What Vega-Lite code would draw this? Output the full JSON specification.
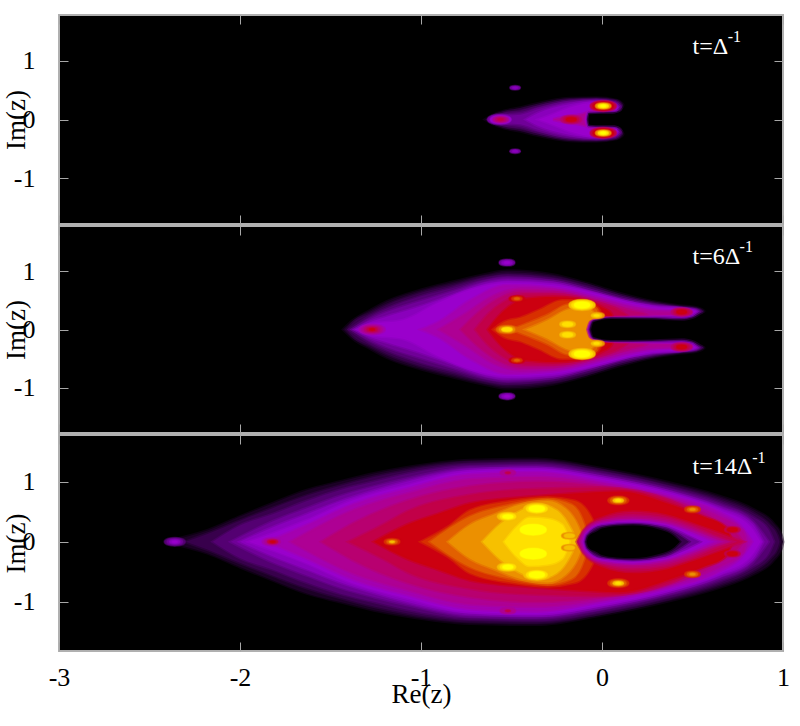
{"$schema":"https://vega.github.io/schema/vega-lite/v6.json","padding":{"left":1,"top":13,"right":16,"bottom":8},"spacing":-4,
"config":{"view":{"fill":"#000","stroke":"#b0b0b0","strokeWidth":2},"font":"Liberation Serif","axis":{"grid":false,"domain":false,"tickColor":"#a8a8a8","tickSize":-9,"tickWidth":1,"labelFont":"Liberation Serif","labelFontSize":26,"labelFlush":false,"labelColor":"#000","titleFont":"Liberation Serif","titleFontSize":27,"titleFontWeight":"normal","titleColor":"#000"}},
"datasets":{
"t":[{"p":1,"k":0,"x":0.5,"y":1.11,"t":"t=Δ"},{"p":1,"k":1,"x":0.695,"y":1.32,"t":"-1"},{"p":2,"k":0,"x":0.5,"y":1.12,"t":"t=6Δ"},{"p":2,"k":1,"x":0.76,"y":1.33,"t":"-1"},{"p":3,"k":0,"x":0.5,"y":1.13,"t":"t=14Δ"},{"p":3,"k":1,"x":0.83,"y":1.32,"t":"-1"}],
"b1":[
{"l":1,"x":-0.646,"y":0,"y2":0},{"l":1,"x":-0.6,"y":0.08,"y2":-0.08},{"l":1,"x":-0.545,"y":0.14,"y2":-0.14},{"l":1,"x":-0.45,"y":0.2,"y2":-0.2},{"l":1,"x":-0.36,"y":0.27,"y2":-0.27},{"l":1,"x":-0.18,"y":0.36,"y2":-0.36},{"l":1,"x":-0.03,"y":0.37,"y2":-0.37},{"l":1,"x":0.08,"y":0.33,"y2":-0.33},{"l":1,"x":0.12,"y":0.24,"y2":-0.24},{"l":1,"x":0.125,"y":0,"y2":0},
{"l":2,"x":-0.63,"y":0,"y2":0},{"l":2,"x":-0.6,"y":0.06,"y2":-0.06},{"l":2,"x":-0.545,"y":0.12,"y2":-0.12},{"l":2,"x":-0.45,"y":0.17,"y2":-0.17},{"l":2,"x":-0.36,"y":0.24,"y2":-0.24},{"l":2,"x":-0.18,"y":0.34,"y2":-0.34},{"l":2,"x":-0.03,"y":0.355,"y2":-0.355},{"l":2,"x":0.08,"y":0.32,"y2":-0.32},{"l":2,"x":0.11,"y":0.24,"y2":-0.24},{"l":2,"x":0.115,"y":0,"y2":0},
{"l":3,"x":-0.61,"y":0,"y2":0},{"l":3,"x":-0.545,"y":0.09,"y2":-0.09},{"l":3,"x":-0.45,"y":0.13,"y2":-0.13},{"l":3,"x":-0.36,"y":0.21,"y2":-0.21},{"l":3,"x":-0.18,"y":0.32,"y2":-0.32},{"l":3,"x":-0.03,"y":0.34,"y2":-0.34},{"l":3,"x":0.07,"y":0.31,"y2":-0.31},{"l":3,"x":0.105,"y":0.23,"y2":-0.23},{"l":3,"x":0.11,"y":0,"y2":0},
{"l":4,"x":-0.6,"y":0,"y2":0},{"l":4,"x":-0.545,"y":0.06,"y2":-0.06},{"l":4,"x":-0.45,"y":0.08,"y2":-0.08},{"l":4,"x":-0.36,"y":0.17,"y2":-0.17},{"l":4,"x":-0.18,"y":0.3,"y2":-0.3},{"l":4,"x":-0.03,"y":0.33,"y2":-0.33},{"l":4,"x":0.07,"y":0.29,"y2":-0.29},{"l":4,"x":0.1,"y":0.22,"y2":-0.22},{"l":4,"x":0.105,"y":0,"y2":0},
{"l":5,"x":-0.42,"y":0,"y2":0},{"l":5,"x":-0.36,"y":0.1,"y2":-0.1},{"l":5,"x":-0.18,"y":0.26,"y2":-0.26},{"l":5,"x":-0.03,"y":0.31,"y2":-0.31},{"l":5,"x":0.07,"y":0.27,"y2":-0.27},{"l":5,"x":0.09,"y":0.21,"y2":-0.21},{"l":5,"x":0.095,"y":0,"y2":0},
{"l":6,"x":-0.35,"y":0,"y2":0},{"l":6,"x":-0.27,"y":0.09,"y2":-0.09},{"l":6,"x":-0.18,"y":0.2,"y2":-0.2},{"l":6,"x":-0.03,"y":0.29,"y2":-0.29},{"l":6,"x":0.07,"y":0.25,"y2":-0.25},{"l":6,"x":0.085,"y":0.2,"y2":-0.2},{"l":6,"x":0.09,"y":0,"y2":0},
{"l":8,"x":-0.27,"y":0,"y2":0},{"l":8,"x":-0.2,"y":0.05,"y2":-0.05},{"l":8,"x":-0.1,"y":0.1,"y2":-0.1},{"l":8,"x":-0.06,"y":0.15,"y2":-0.15},{"l":8,"x":0,"y":0.27,"y2":-0.27},{"l":8,"x":0.05,"y":0.24,"y2":-0.24},{"l":8,"x":0.07,"y":0.1,"y2":-0.1},{"l":8,"x":0.075,"y":0,"y2":0}],
"h1":[
{"l":6,"x":-0.09,"y":0,"y2":0},{"l":6,"x":-0.08,"y":0.13,"y2":-0.13},{"l":6,"x":0,"y":0.135,"y2":-0.135},{"l":6,"x":0.08,"y":0.15,"y2":-0.15},{"l":6,"x":0.085,"y":0,"y2":0},
{"l":3,"x":-0.08,"y":0,"y2":0},{"l":3,"x":-0.075,"y":0.11,"y2":-0.11},{"l":3,"x":0,"y":0.115,"y2":-0.115},{"l":3,"x":0.08,"y":0.13,"y2":-0.13},{"l":3,"x":0.105,"y":0.2,"y2":-0.2},{"l":3,"x":0.11,"y":0,"y2":0},
{"l":0,"x":-0.075,"y":0,"y2":0},{"l":0,"x":-0.07,"y":0.09,"y2":-0.09},{"l":0,"x":0,"y":0.1,"y2":-0.1},{"l":0,"x":0.06,"y":0.1,"y2":-0.1},{"l":0,"x":0.1,"y":0.13,"y2":-0.13},{"l":0,"x":0.13,"y":0.25,"y2":-0.25},{"l":0,"x":0.16,"y":0.35,"y2":-0.35}],
"s1":[
{"l":4,"g":5,"x":-0.56,"y":0},{"l":6,"g":4,"x":-0.56,"y":0},{"l":8,"g":3,"x":-0.56,"y":0},{"l":9,"g":2,"x":-0.56,"y":0},{"l":10,"g":1,"x":-0.56,"y":0},
{"l":9,"g":4,"x":-0.17,"y":0},{"l":10,"g":3,"x":-0.17,"y":0},{"l":11,"g":2,"x":-0.17,"y":0},
{"l":10,"g":5,"x":0.007,"y":0.23},{"l":11,"g":4,"x":0.007,"y":0.23},{"l":14,"g":3,"x":0.007,"y":0.23},{"l":16,"g":2,"x":0.007,"y":0.23},{"l":17,"g":1,"x":0.007,"y":0.23},
{"l":10,"g":5,"x":0.007,"y":-0.23},{"l":11,"g":4,"x":0.007,"y":-0.23},{"l":14,"g":3,"x":0.007,"y":-0.23},{"l":16,"g":2,"x":0.007,"y":-0.23},{"l":17,"g":1,"x":0.007,"y":-0.23},
{"l":4,"g":2,"x":-0.48,"y":0.54},{"l":5,"g":1,"x":-0.48,"y":0.54},{"l":4,"g":2,"x":-0.48,"y":-0.54},{"l":5,"g":1,"x":-0.48,"y":-0.54}],
"b2":[
{"l":1,"x":-1.43,"y":0,"y2":0},{"l":1,"x":-1.375,"y":0.16,"y2":-0.16},{"l":1,"x":-1.28,"y":0.33,"y2":-0.33},{"l":1,"x":-1.19,"y":0.48,"y2":-0.48},{"l":1,"x":-1,"y":0.68,"y2":-0.68},{"l":1,"x":-0.82,"y":0.82,"y2":-0.82},{"l":1,"x":-0.64,"y":0.95,"y2":-0.95},{"l":1,"x":-0.525,"y":1.01,"y2":-1.01},{"l":1,"x":-0.27,"y":0.94,"y2":-0.94},{"l":1,"x":-0.08,"y":0.79,"y2":-0.79},{"l":1,"x":0.1,"y":0.62,"y2":-0.62},{"l":1,"x":0.28,"y":0.48,"y2":-0.48},{"l":1,"x":0.43,"y":0.41,"y2":-0.41},{"l":1,"x":0.53,"y":0.37,"y2":-0.37},{"l":1,"x":0.57,"y":0.3,"y2":-0.3},{"l":1,"x":0.58,"y":0,"y2":0},
{"l":2,"x":-1.41,"y":0,"y2":0},{"l":2,"x":-1.375,"y":0.12,"y2":-0.12},{"l":2,"x":-1.28,"y":0.28,"y2":-0.28},{"l":2,"x":-1.19,"y":0.42,"y2":-0.42},{"l":2,"x":-1,"y":0.63,"y2":-0.63},{"l":2,"x":-0.82,"y":0.77,"y2":-0.77},{"l":2,"x":-0.64,"y":0.91,"y2":-0.91},{"l":2,"x":-0.525,"y":0.96,"y2":-0.96},{"l":2,"x":-0.27,"y":0.9,"y2":-0.9},{"l":2,"x":-0.08,"y":0.76,"y2":-0.76},{"l":2,"x":0.1,"y":0.59,"y2":-0.59},{"l":2,"x":0.28,"y":0.46,"y2":-0.46},{"l":2,"x":0.43,"y":0.39,"y2":-0.39},{"l":2,"x":0.52,"y":0.36,"y2":-0.36},{"l":2,"x":0.56,"y":0.3,"y2":-0.3},{"l":2,"x":0.565,"y":0,"y2":0},
{"l":3,"x":-1.395,"y":0,"y2":0},{"l":3,"x":-1.28,"y":0.23,"y2":-0.23},{"l":3,"x":-1.19,"y":0.36,"y2":-0.36},{"l":3,"x":-1,"y":0.57,"y2":-0.57},{"l":3,"x":-0.82,"y":0.72,"y2":-0.72},{"l":3,"x":-0.64,"y":0.87,"y2":-0.87},{"l":3,"x":-0.525,"y":0.92,"y2":-0.92},{"l":3,"x":-0.27,"y":0.86,"y2":-0.86},{"l":3,"x":-0.08,"y":0.72,"y2":-0.72},{"l":3,"x":0.1,"y":0.56,"y2":-0.56},{"l":3,"x":0.28,"y":0.44,"y2":-0.44},{"l":3,"x":0.43,"y":0.38,"y2":-0.38},{"l":3,"x":0.52,"y":0.35,"y2":-0.35},{"l":3,"x":0.55,"y":0.3,"y2":-0.3},{"l":3,"x":0.555,"y":0,"y2":0},
{"l":4,"x":-1.38,"y":0,"y2":0},{"l":4,"x":-1.28,"y":0.18,"y2":-0.18},{"l":4,"x":-1.19,"y":0.3,"y2":-0.3},{"l":4,"x":-1,"y":0.49,"y2":-0.49},{"l":4,"x":-0.82,"y":0.66,"y2":-0.66},{"l":4,"x":-0.64,"y":0.83,"y2":-0.83},{"l":4,"x":-0.525,"y":0.88,"y2":-0.88},{"l":4,"x":-0.27,"y":0.83,"y2":-0.83},{"l":4,"x":-0.08,"y":0.69,"y2":-0.69},{"l":4,"x":0.1,"y":0.53,"y2":-0.53},{"l":4,"x":0.28,"y":0.42,"y2":-0.42},{"l":4,"x":0.44,"y":0.37,"y2":-0.37},{"l":4,"x":0.52,"y":0.34,"y2":-0.34},{"l":4,"x":0.54,"y":0.3,"y2":-0.3},{"l":4,"x":0.55,"y":0,"y2":0},
{"l":5,"x":-1.365,"y":0,"y2":0},{"l":5,"x":-1.28,"y":0.13,"y2":-0.13},{"l":5,"x":-1.19,"y":0.22,"y2":-0.22},{"l":5,"x":-1,"y":0.4,"y2":-0.4},{"l":5,"x":-0.82,"y":0.6,"y2":-0.6},{"l":5,"x":-0.64,"y":0.79,"y2":-0.79},{"l":5,"x":-0.525,"y":0.84,"y2":-0.84},{"l":5,"x":-0.27,"y":0.8,"y2":-0.8},{"l":5,"x":-0.08,"y":0.66,"y2":-0.66},{"l":5,"x":0.1,"y":0.5,"y2":-0.5},{"l":5,"x":0.28,"y":0.4,"y2":-0.4},{"l":5,"x":0.44,"y":0.365,"y2":-0.365},{"l":5,"x":0.51,"y":0.335,"y2":-0.335},{"l":5,"x":0.53,"y":0.3,"y2":-0.3},{"l":5,"x":0.54,"y":0,"y2":0},
{"l":6,"x":-1.35,"y":0,"y2":0},{"l":6,"x":-1.28,"y":0.09,"y2":-0.09},{"l":6,"x":-1.1,"y":0.16,"y2":-0.16},{"l":6,"x":-0.91,"y":0.45,"y2":-0.45},{"l":6,"x":-0.73,"y":0.68,"y2":-0.68},{"l":6,"x":-0.525,"y":0.8,"y2":-0.8},{"l":6,"x":-0.27,"y":0.76,"y2":-0.76},{"l":6,"x":0,"y":0.59,"y2":-0.59},{"l":6,"x":0.19,"y":0.44,"y2":-0.44},{"l":6,"x":0.3,"y":0.38,"y2":-0.38},{"l":6,"x":0.44,"y":0.36,"y2":-0.36},{"l":6,"x":0.5,"y":0.33,"y2":-0.33},{"l":6,"x":0.52,"y":0.3,"y2":-0.3},{"l":6,"x":0.53,"y":0,"y2":0},
{"l":7,"x":-1,"y":0,"y2":0},{"l":7,"x":-0.91,"y":0.12,"y2":-0.12},{"l":7,"x":-0.73,"y":0.5,"y2":-0.5},{"l":7,"x":-0.525,"y":0.76,"y2":-0.76},{"l":7,"x":-0.27,"y":0.72,"y2":-0.72},{"l":7,"x":0,"y":0.54,"y2":-0.54},{"l":7,"x":0.15,"y":0.42,"y2":-0.42},{"l":7,"x":0.3,"y":0.34,"y2":-0.34},{"l":7,"x":0.42,"y":0.32,"y2":-0.32},{"l":7,"x":0.5,"y":0.3,"y2":-0.3},{"l":7,"x":0.51,"y":0,"y2":0},
{"l":8,"x":-0.9,"y":0,"y2":0},{"l":8,"x":-0.75,"y":0.28,"y2":-0.28},{"l":8,"x":-0.6,"y":0.58,"y2":-0.58},{"l":8,"x":-0.45,"y":0.7,"y2":-0.7},{"l":8,"x":-0.27,"y":0.68,"y2":-0.68},{"l":8,"x":0,"y":0.5,"y2":-0.5},{"l":8,"x":0.15,"y":0.38,"y2":-0.38},{"l":8,"x":0.3,"y":0.31,"y2":-0.31},{"l":8,"x":0.44,"y":0.3,"y2":-0.3},{"l":8,"x":0.49,"y":0.29,"y2":-0.29},{"l":8,"x":0.5,"y":0,"y2":0},
{"l":9,"x":-0.78,"y":0,"y2":0},{"l":9,"x":-0.68,"y":0.3,"y2":-0.3},{"l":9,"x":-0.58,"y":0.52,"y2":-0.52},{"l":9,"x":-0.45,"y":0.65,"y2":-0.65},{"l":9,"x":-0.27,"y":0.64,"y2":-0.64},{"l":9,"x":0,"y":0.47,"y2":-0.47},{"l":9,"x":0.15,"y":0.33,"y2":-0.33},{"l":9,"x":0.25,"y":0.25,"y2":-0.25},{"l":9,"x":0.28,"y":0,"y2":0},
{"l":10,"x":-0.7,"y":0,"y2":0},{"l":10,"x":-0.63,"y":0.26,"y2":-0.26},{"l":10,"x":-0.55,"y":0.46,"y2":-0.46},{"l":10,"x":-0.42,"y":0.6,"y2":-0.6},{"l":10,"x":-0.27,"y":0.6,"y2":-0.6},{"l":10,"x":0,"y":0.44,"y2":-0.44},{"l":10,"x":0.1,"y":0.32,"y2":-0.32},{"l":10,"x":0.15,"y":0.2,"y2":-0.2},{"l":10,"x":0.17,"y":0,"y2":0},
{"l":11,"x":-0.63,"y":0,"y2":0},{"l":11,"x":-0.58,"y":0.2,"y2":-0.2},{"l":11,"x":-0.52,"y":0.38,"y2":-0.38},{"l":11,"x":-0.42,"y":0.53,"y2":-0.53},{"l":11,"x":-0.27,"y":0.56,"y2":-0.56},{"l":11,"x":-0.12,"y":0.52,"y2":-0.52},{"l":11,"x":0,"y":0.38,"y2":-0.38},{"l":11,"x":0.05,"y":0.28,"y2":-0.28},{"l":11,"x":0.08,"y":0,"y2":0},
{"l":12,"x":-0.6,"y":0,"y2":0},{"l":12,"x":-0.54,"y":0.13,"y2":-0.13},{"l":12,"x":-0.45,"y":0.2,"y2":-0.2},{"l":12,"x":-0.35,"y":0.33,"y2":-0.33},{"l":12,"x":-0.22,"y":0.5,"y2":-0.5},{"l":12,"x":-0.1,"y":0.5,"y2":-0.5},{"l":12,"x":-0.02,"y":0.36,"y2":-0.36},{"l":12,"x":0,"y":0.2,"y2":-0.2},{"l":12,"x":0.01,"y":0,"y2":0},
{"l":13,"x":-0.5,"y":0,"y2":0},{"l":13,"x":-0.4,"y":0.12,"y2":-0.12},{"l":13,"x":-0.3,"y":0.25,"y2":-0.25},{"l":13,"x":-0.2,"y":0.42,"y2":-0.42},{"l":13,"x":-0.1,"y":0.46,"y2":-0.46},{"l":13,"x":-0.03,"y":0.35,"y2":-0.35},{"l":13,"x":-0.02,"y":0.2,"y2":-0.2},{"l":13,"x":-0.01,"y":0,"y2":0},
{"l":14,"x":-0.42,"y":0,"y2":0},{"l":14,"x":-0.3,"y":0.16,"y2":-0.16},{"l":14,"x":-0.2,"y":0.33,"y2":-0.33},{"l":14,"x":-0.1,"y":0.4,"y2":-0.4},{"l":14,"x":-0.05,"y":0.3,"y2":-0.3},{"l":14,"x":-0.03,"y":0,"y2":0}],
"h2":[
{"l":8,"x":-0.08,"y":0,"y2":0},{"l":8,"x":-0.065,"y":0.13,"y2":-0.13},{"l":8,"x":0,"y":0.2,"y2":-0.2},{"l":8,"x":0.15,"y":0.22,"y2":-0.22},{"l":8,"x":0.3,"y":0.245,"y2":-0.245},{"l":8,"x":0.44,"y":0.255,"y2":-0.255},{"l":8,"x":0.49,"y":0.27,"y2":-0.27},{"l":8,"x":0.495,"y":0,"y2":0},
{"l":6,"x":-0.075,"y":0,"y2":0},{"l":6,"x":-0.06,"y":0.13,"y2":-0.13},{"l":6,"x":0,"y":0.19,"y2":-0.19},{"l":6,"x":0.15,"y":0.2,"y2":-0.2},{"l":6,"x":0.3,"y":0.22,"y2":-0.22},{"l":6,"x":0.44,"y":0.23,"y2":-0.23},{"l":6,"x":0.5,"y":0.25,"y2":-0.25},{"l":6,"x":0.52,"y":0.28,"y2":-0.28},{"l":6,"x":0.525,"y":0,"y2":0},
{"l":4,"x":-0.07,"y":0,"y2":0},{"l":4,"x":-0.055,"y":0.13,"y2":-0.13},{"l":4,"x":0.05,"y":0.19,"y2":-0.19},{"l":4,"x":0.3,"y":0.2,"y2":-0.2},{"l":4,"x":0.44,"y":0.2,"y2":-0.2},{"l":4,"x":0.5,"y":0.23,"y2":-0.23},{"l":4,"x":0.535,"y":0.29,"y2":-0.29},{"l":4,"x":0.54,"y":0,"y2":0},
{"l":2,"x":-0.065,"y":0,"y2":0},{"l":2,"x":-0.05,"y":0.13,"y2":-0.13},{"l":2,"x":0.05,"y":0.185,"y2":-0.185},{"l":2,"x":0.3,"y":0.185,"y2":-0.185},{"l":2,"x":0.44,"y":0.17,"y2":-0.17},{"l":2,"x":0.5,"y":0.2,"y2":-0.2},{"l":2,"x":0.55,"y":0.29,"y2":-0.29},{"l":2,"x":0.555,"y":0,"y2":0},
{"l":0,"x":-0.06,"y":0,"y2":0},{"l":0,"x":-0.045,"y":0.13,"y2":-0.13},{"l":0,"x":0.05,"y":0.18,"y2":-0.18},{"l":0,"x":0.28,"y":0.17,"y2":-0.17},{"l":0,"x":0.44,"y":0.15,"y2":-0.15},{"l":0,"x":0.5,"y":0.18,"y2":-0.18},{"l":0,"x":0.56,"y":0.28,"y2":-0.28},{"l":0,"x":0.6,"y":0.35,"y2":-0.35},{"l":0,"x":0.7,"y":0.4,"y2":-0.4}],
"s2":[
{"l":7,"g":5,"x":-1.27,"y":0},{"l":8,"g":4,"x":-1.27,"y":0},{"l":9,"g":3,"x":-1.27,"y":0},{"l":10,"g":2,"x":-1.27,"y":0},{"l":11,"g":1,"x":-1.27,"y":0},
{"l":13,"g":4,"x":-0.525,"y":0},{"l":14,"g":3,"x":-0.525,"y":0},{"l":16,"g":2,"x":-0.525,"y":0},
{"l":15,"g":5,"x":-0.11,"y":0.42},{"l":16,"g":4,"x":-0.11,"y":0.42},{"l":17,"g":3,"x":-0.11,"y":0.42},{"l":15,"g":5,"x":-0.11,"y":-0.42},{"l":16,"g":4,"x":-0.11,"y":-0.42},{"l":17,"g":3,"x":-0.11,"y":-0.42},
{"l":15,"g":3,"x":-0.19,"y":0.09},{"l":16,"g":2,"x":-0.19,"y":0.09},{"l":15,"g":3,"x":-0.19,"y":-0.09},{"l":16,"g":2,"x":-0.19,"y":-0.09},
{"l":14,"g":3,"x":-0.03,"y":0.24},{"l":15,"g":2,"x":-0.03,"y":0.24},{"l":16,"g":1,"x":-0.03,"y":0.24},{"l":14,"g":3,"x":-0.03,"y":-0.24},{"l":15,"g":2,"x":-0.03,"y":-0.24},{"l":16,"g":1,"x":-0.03,"y":-0.24},
{"l":11,"g":3,"x":-0.47,"y":0.53},{"l":12,"g":2,"x":-0.47,"y":0.53},{"l":13,"g":1,"x":-0.47,"y":0.53},{"l":11,"g":3,"x":-0.47,"y":-0.53},{"l":12,"g":2,"x":-0.47,"y":-0.53},{"l":13,"g":1,"x":-0.47,"y":-0.53},
{"l":9,"g":4,"x":0.44,"y":0.3},{"l":10,"g":3,"x":0.44,"y":0.3},{"l":11,"g":2,"x":0.44,"y":0.3},{"l":9,"g":4,"x":0.44,"y":-0.3},{"l":10,"g":3,"x":0.44,"y":-0.3},{"l":11,"g":2,"x":0.44,"y":-0.3},
{"l":4,"g":3,"x":-0.525,"y":1.15},{"l":5,"g":2,"x":-0.525,"y":1.15},{"l":6,"g":1,"x":-0.525,"y":1.15},{"l":4,"g":3,"x":-0.525,"y":-1.15},{"l":5,"g":2,"x":-0.525,"y":-1.15},{"l":6,"g":1,"x":-0.525,"y":-1.15}],
"b3":[
{"l":1,"x":-2.42,"y":0,"y2":0},{"l":1,"x":-2.18,"y":0.19,"y2":-0.19},{"l":1,"x":-2,"y":0.42,"y2":-0.42},{"l":1,"x":-1.82,"y":0.64,"y2":-0.64},{"l":1,"x":-1.63,"y":0.86,"y2":-0.86},{"l":1,"x":-1.45,"y":1,"y2":-1},{"l":1,"x":-1.26,"y":1.14,"y2":-1.14},{"l":1,"x":-1.08,"y":1.24,"y2":-1.24},{"l":1,"x":-0.73,"y":1.36,"y2":-1.36},{"l":1,"x":-0.36,"y":1.38,"y2":-1.38},{"l":1,"x":0,"y":1.22,"y2":-1.22},{"l":1,"x":0.38,"y":0.98,"y2":-0.98},{"l":1,"x":0.65,"y":0.76,"y2":-0.76},{"l":1,"x":0.83,"y":0.55,"y2":-0.55},{"l":1,"x":0.95,"y":0.3,"y2":-0.3},{"l":1,"x":0.99,"y":0.12,"y2":-0.12},{"l":1,"x":1,"y":0,"y2":0},
{"l":2,"x":-2.3,"y":0,"y2":0},{"l":2,"x":-2.18,"y":0.13,"y2":-0.13},{"l":2,"x":-2,"y":0.35,"y2":-0.35},{"l":2,"x":-1.82,"y":0.56,"y2":-0.56},{"l":2,"x":-1.63,"y":0.77,"y2":-0.77},{"l":2,"x":-1.45,"y":0.93,"y2":-0.93},{"l":2,"x":-1.26,"y":1.08,"y2":-1.08},{"l":2,"x":-1.08,"y":1.19,"y2":-1.19},{"l":2,"x":-0.73,"y":1.32,"y2":-1.32},{"l":2,"x":-0.36,"y":1.34,"y2":-1.34},{"l":2,"x":0,"y":1.19,"y2":-1.19},{"l":2,"x":0.38,"y":0.94,"y2":-0.94},{"l":2,"x":0.65,"y":0.71,"y2":-0.71},{"l":2,"x":0.83,"y":0.49,"y2":-0.49},{"l":2,"x":0.93,"y":0.27,"y2":-0.27},{"l":2,"x":0.97,"y":0.1,"y2":-0.1},{"l":2,"x":0.98,"y":0,"y2":0},
{"l":3,"x":-2.15,"y":0,"y2":0},{"l":3,"x":-2,"y":0.27,"y2":-0.27},{"l":3,"x":-1.82,"y":0.46,"y2":-0.46},{"l":3,"x":-1.63,"y":0.68,"y2":-0.68},{"l":3,"x":-1.45,"y":0.86,"y2":-0.86},{"l":3,"x":-1.26,"y":1,"y2":-1},{"l":3,"x":-1.08,"y":1.13,"y2":-1.13},{"l":3,"x":-0.73,"y":1.28,"y2":-1.28},{"l":3,"x":-0.36,"y":1.3,"y2":-1.3},{"l":3,"x":0,"y":1.15,"y2":-1.15},{"l":3,"x":0.38,"y":0.9,"y2":-0.9},{"l":3,"x":0.65,"y":0.66,"y2":-0.66},{"l":3,"x":0.83,"y":0.42,"y2":-0.42},{"l":3,"x":0.92,"y":0.2,"y2":-0.2},{"l":3,"x":0.95,"y":0,"y2":0},
{"l":4,"x":-2.05,"y":0,"y2":0},{"l":4,"x":-1.82,"y":0.34,"y2":-0.34},{"l":4,"x":-1.63,"y":0.56,"y2":-0.56},{"l":4,"x":-1.45,"y":0.76,"y2":-0.76},{"l":4,"x":-1.26,"y":0.92,"y2":-0.92},{"l":4,"x":-1.08,"y":1.05,"y2":-1.05},{"l":4,"x":-0.73,"y":1.24,"y2":-1.24},{"l":4,"x":-0.36,"y":1.26,"y2":-1.26},{"l":4,"x":0,"y":1.11,"y2":-1.11},{"l":4,"x":0.38,"y":0.86,"y2":-0.86},{"l":4,"x":0.65,"y":0.61,"y2":-0.61},{"l":4,"x":0.83,"y":0.35,"y2":-0.35},{"l":4,"x":0.92,"y":0,"y2":0},
{"l":5,"x":-2,"y":0,"y2":0},{"l":5,"x":-1.82,"y":0.24,"y2":-0.24},{"l":5,"x":-1.63,"y":0.46,"y2":-0.46},{"l":5,"x":-1.45,"y":0.67,"y2":-0.67},{"l":5,"x":-1.26,"y":0.85,"y2":-0.85},{"l":5,"x":-1.08,"y":1,"y2":-1},{"l":5,"x":-0.73,"y":1.2,"y2":-1.2},{"l":5,"x":-0.36,"y":1.23,"y2":-1.23},{"l":5,"x":0,"y":1.08,"y2":-1.08},{"l":5,"x":0.38,"y":0.83,"y2":-0.83},{"l":5,"x":0.65,"y":0.57,"y2":-0.57},{"l":5,"x":0.83,"y":0.3,"y2":-0.3},{"l":5,"x":0.89,"y":0,"y2":0},
{"l":6,"x":-1.95,"y":0,"y2":0},{"l":6,"x":-1.82,"y":0.14,"y2":-0.14},{"l":6,"x":-1.63,"y":0.36,"y2":-0.36},{"l":6,"x":-1.38,"y":0.69,"y2":-0.69},{"l":6,"x":-1.08,"y":0.94,"y2":-0.94},{"l":6,"x":-0.73,"y":1.17,"y2":-1.17},{"l":6,"x":-0.36,"y":1.2,"y2":-1.2},{"l":6,"x":0,"y":1.05,"y2":-1.05},{"l":6,"x":0.38,"y":0.8,"y2":-0.8},{"l":6,"x":0.65,"y":0.53,"y2":-0.53},{"l":6,"x":0.82,"y":0.25,"y2":-0.25},{"l":6,"x":0.875,"y":0,"y2":0},
{"l":7,"x":-1.85,"y":0,"y2":0},{"l":7,"x":-1.63,"y":0.28,"y2":-0.28},{"l":7,"x":-1.38,"y":0.62,"y2":-0.62},{"l":7,"x":-1.08,"y":0.88,"y2":-0.88},{"l":7,"x":-0.73,"y":1.12,"y2":-1.12},{"l":7,"x":-0.36,"y":1.16,"y2":-1.16},{"l":7,"x":0,"y":1,"y2":-1},{"l":7,"x":0.38,"y":0.76,"y2":-0.76},{"l":7,"x":0.65,"y":0.49,"y2":-0.49},{"l":7,"x":0.78,"y":0.22,"y2":-0.22},{"l":7,"x":0.83,"y":0,"y2":0},
{"l":8,"x":-1.72,"y":0,"y2":0},{"l":8,"x":-1.38,"y":0.52,"y2":-0.52},{"l":8,"x":-1.08,"y":0.8,"y2":-0.8},{"l":8,"x":-0.73,"y":1.04,"y2":-1.04},{"l":8,"x":-0.36,"y":1.08,"y2":-1.08},{"l":8,"x":0,"y":0.96,"y2":-0.96},{"l":8,"x":0.38,"y":0.72,"y2":-0.72},{"l":8,"x":0.65,"y":0.42,"y2":-0.42},{"l":8,"x":0.78,"y":0.18,"y2":-0.18},{"l":8,"x":0.8,"y":0,"y2":0},
{"l":9,"x":-1.55,"y":0,"y2":0},{"l":9,"x":-1.38,"y":0.3,"y2":-0.3},{"l":9,"x":-1.08,"y":0.68,"y2":-0.68},{"l":9,"x":-0.73,"y":0.92,"y2":-0.92},{"l":9,"x":-0.36,"y":1,"y2":-1},{"l":9,"x":0,"y":0.92,"y2":-0.92},{"l":9,"x":0.38,"y":0.7,"y2":-0.7},{"l":9,"x":0.62,"y":0.38,"y2":-0.38},{"l":9,"x":0.74,"y":0.15,"y2":-0.15},{"l":9,"x":0.78,"y":0,"y2":0},
{"l":10,"x":-1.4,"y":0,"y2":0},{"l":10,"x":-1.2,"y":0.3,"y2":-0.3},{"l":10,"x":-1.08,"y":0.5,"y2":-0.5},{"l":10,"x":-0.73,"y":0.78,"y2":-0.78},{"l":10,"x":-0.36,"y":0.88,"y2":-0.88},{"l":10,"x":0,"y":0.9,"y2":-0.9},{"l":10,"x":0.38,"y":0.68,"y2":-0.68},{"l":10,"x":0.58,"y":0.36,"y2":-0.36},{"l":10,"x":0.7,"y":0.12,"y2":-0.12},{"l":10,"x":0.74,"y":0,"y2":0},
{"l":11,"x":-1.26,"y":0,"y2":0},{"l":11,"x":-1.08,"y":0.28,"y2":-0.28},{"l":11,"x":-0.9,"y":0.47,"y2":-0.47},{"l":11,"x":-0.73,"y":0.64,"y2":-0.64},{"l":11,"x":-0.36,"y":0.76,"y2":-0.76},{"l":11,"x":-0.18,"y":0.8,"y2":-0.8},{"l":11,"x":0.1,"y":0.84,"y2":-0.84},{"l":11,"x":0.38,"y":0.62,"y2":-0.62},{"l":11,"x":0.56,"y":0.42,"y2":-0.42},{"l":11,"x":0.68,"y":0.25,"y2":-0.25},{"l":11,"x":0.72,"y":0,"y2":0},
{"l":12,"x":-1,"y":0,"y2":0},{"l":12,"x":-0.85,"y":0.25,"y2":-0.25},{"l":12,"x":-0.73,"y":0.52,"y2":-0.52},{"l":12,"x":-0.5,"y":0.68,"y2":-0.68},{"l":12,"x":-0.3,"y":0.74,"y2":-0.74},{"l":12,"x":-0.15,"y":0.68,"y2":-0.68},{"l":12,"x":-0.05,"y":0.35,"y2":-0.35},{"l":12,"x":-0.02,"y":0,"y2":0},
{"l":13,"x":-0.95,"y":0,"y2":0},{"l":13,"x":-0.73,"y":0.42,"y2":-0.42},{"l":13,"x":-0.5,"y":0.62,"y2":-0.62},{"l":13,"x":-0.3,"y":0.71,"y2":-0.71},{"l":13,"x":-0.17,"y":0.62,"y2":-0.62},{"l":13,"x":-0.1,"y":0.3,"y2":-0.3},{"l":13,"x":-0.08,"y":0,"y2":0},
{"l":14,"x":-0.85,"y":0,"y2":0},{"l":14,"x":-0.73,"y":0.28,"y2":-0.28},{"l":14,"x":-0.6,"y":0.45,"y2":-0.45},{"l":14,"x":-0.45,"y":0.62,"y2":-0.62},{"l":14,"x":-0.3,"y":0.68,"y2":-0.68},{"l":14,"x":-0.2,"y":0.55,"y2":-0.55},{"l":14,"x":-0.13,"y":0.25,"y2":-0.25},{"l":14,"x":-0.1,"y":0,"y2":0},
{"l":15,"x":-0.66,"y":0,"y2":0},{"l":15,"x":-0.56,"y":0.3,"y2":-0.3},{"l":15,"x":-0.46,"y":0.5,"y2":-0.5},{"l":15,"x":-0.35,"y":0.62,"y2":-0.62},{"l":15,"x":-0.25,"y":0.52,"y2":-0.52},{"l":15,"x":-0.17,"y":0.2,"y2":-0.2},{"l":15,"x":-0.14,"y":0,"y2":0},
{"l":16,"x":-0.54,"y":0,"y2":0},{"l":16,"x":-0.47,"y":0.25,"y2":-0.25},{"l":16,"x":-0.4,"y":0.4,"y2":-0.4},{"l":16,"x":-0.3,"y":0.38,"y2":-0.38},{"l":16,"x":-0.22,"y":0.28,"y2":-0.28},{"l":16,"x":-0.18,"y":0,"y2":0}],
"h3":[
{"l":10,"x":-0.14,"y":0,"y2":0},{"l":10,"x":-0.1,"y":0.2,"y2":-0.2},{"l":10,"x":0,"y":0.4,"y2":-0.4},{"l":10,"x":0.17,"y":0.5,"y2":-0.5},{"l":10,"x":0.35,"y":0.44,"y2":-0.44},{"l":10,"x":0.5,"y":0.3,"y2":-0.3},{"l":10,"x":0.65,"y":0.14,"y2":-0.14},{"l":10,"x":0.78,"y":0,"y2":0},
{"l":9,"x":-0.13,"y":0,"y2":0},{"l":9,"x":-0.1,"y":0.18,"y2":-0.18},{"l":9,"x":0,"y":0.36,"y2":-0.36},{"l":9,"x":0.17,"y":0.44,"y2":-0.44},{"l":9,"x":0.35,"y":0.39,"y2":-0.39},{"l":9,"x":0.5,"y":0.25,"y2":-0.25},{"l":9,"x":0.62,"y":0.1,"y2":-0.1},{"l":9,"x":0.72,"y":0,"y2":0},
{"l":8,"x":-0.12,"y":0,"y2":0},{"l":8,"x":-0.1,"y":0.16,"y2":-0.16},{"l":8,"x":0,"y":0.34,"y2":-0.34},{"l":8,"x":0.17,"y":0.39,"y2":-0.39},{"l":8,"x":0.35,"y":0.34,"y2":-0.34},{"l":8,"x":0.5,"y":0.2,"y2":-0.2},{"l":8,"x":0.6,"y":0.08,"y2":-0.08},{"l":8,"x":0.68,"y":0,"y2":0},
{"l":7,"x":-0.11,"y":0,"y2":0},{"l":7,"x":-0.09,"y":0.14,"y2":-0.14},{"l":7,"x":0,"y":0.31,"y2":-0.31},{"l":7,"x":0.17,"y":0.36,"y2":-0.36},{"l":7,"x":0.35,"y":0.3,"y2":-0.3},{"l":7,"x":0.5,"y":0.16,"y2":-0.16},{"l":7,"x":0.64,"y":0,"y2":0},
{"l":6,"x":-0.1,"y":0,"y2":0},{"l":6,"x":-0.09,"y":0.12,"y2":-0.12},{"l":6,"x":0,"y":0.29,"y2":-0.29},{"l":6,"x":0.17,"y":0.34,"y2":-0.34},{"l":6,"x":0.35,"y":0.28,"y2":-0.28},{"l":6,"x":0.5,"y":0.13,"y2":-0.13},{"l":6,"x":0.6,"y":0,"y2":0},
{"l":4,"x":-0.095,"y":0,"y2":0},{"l":4,"x":-0.085,"y":0.11,"y2":-0.11},{"l":4,"x":0,"y":0.27,"y2":-0.27},{"l":4,"x":0.17,"y":0.31,"y2":-0.31},{"l":4,"x":0.35,"y":0.25,"y2":-0.25},{"l":4,"x":0.45,"y":0.13,"y2":-0.13},{"l":4,"x":0.54,"y":0,"y2":0},
{"l":2,"x":-0.09,"y":0,"y2":0},{"l":2,"x":-0.08,"y":0.1,"y2":-0.1},{"l":2,"x":0,"y":0.25,"y2":-0.25},{"l":2,"x":0.17,"y":0.29,"y2":-0.29},{"l":2,"x":0.35,"y":0.22,"y2":-0.22},{"l":2,"x":0.42,"y":0.12,"y2":-0.12},{"l":2,"x":0.48,"y":0,"y2":0},
{"l":0,"x":-0.085,"y":0,"y2":0},{"l":0,"x":-0.075,"y":0.09,"y2":-0.09},{"l":0,"x":-0.03,"y":0.17,"y2":-0.17},{"l":0,"x":0,"y":0.22,"y2":-0.22},{"l":0,"x":0.08,"y":0.26,"y2":-0.26},{"l":0,"x":0.17,"y":0.27,"y2":-0.27},{"l":0,"x":0.32,"y":0.2,"y2":-0.2},{"l":0,"x":0.4,"y":0.09,"y2":-0.09},{"l":0,"x":0.43,"y":0,"y2":0}],
"s3":[
{"l":3,"g":4,"x":-2.36,"y":0},{"l":4,"g":3,"x":-2.36,"y":0},{"l":5,"g":2,"x":-2.36,"y":0},{"l":6,"g":1,"x":-2.36,"y":0},
{"l":7,"g":4,"x":-1.82,"y":0},{"l":8,"g":3,"x":-1.82,"y":0},{"l":10,"g":2,"x":-1.82,"y":0},{"l":11,"g":1,"x":-1.82,"y":0},
{"l":11,"g":4,"x":-1.16,"y":0},{"l":12,"g":3,"x":-1.16,"y":0},{"l":13,"g":2,"x":-1.16,"y":0},{"l":15,"g":1,"x":-1.16,"y":0},
{"l":8,"g":3,"x":-0.52,"y":1.15},{"l":10,"g":1,"x":-0.52,"y":1.15},{"l":8,"g":3,"x":-0.52,"y":-1.15},{"l":10,"g":1,"x":-0.52,"y":-1.15},
{"l":12,"g":4,"x":0.09,"y":0.69},{"l":13,"g":3,"x":0.09,"y":0.69},{"l":15,"g":2,"x":0.09,"y":0.69},{"l":16,"g":1,"x":0.09,"y":0.69},{"l":12,"g":4,"x":0.09,"y":-0.69},{"l":13,"g":3,"x":0.09,"y":-0.69},{"l":15,"g":2,"x":0.09,"y":-0.69},{"l":16,"g":1,"x":0.09,"y":-0.69},
{"l":12,"g":3,"x":0.5,"y":0.54},{"l":13,"g":2,"x":0.5,"y":0.54},{"l":14,"g":1,"x":0.5,"y":0.54},{"l":12,"g":3,"x":0.5,"y":-0.54},{"l":13,"g":2,"x":0.5,"y":-0.54},{"l":14,"g":1,"x":0.5,"y":-0.54},
{"l":10,"g":3,"x":0.72,"y":0.2},{"l":11,"g":2,"x":0.72,"y":0.2},{"l":10,"g":3,"x":0.72,"y":-0.2},{"l":11,"g":2,"x":0.72,"y":-0.2},
{"l":14,"g":3,"x":-0.18,"y":0.1},{"l":15,"g":2,"x":-0.18,"y":0.1},{"l":14,"g":3,"x":-0.18,"y":-0.1},{"l":15,"g":2,"x":-0.18,"y":-0.1},
{"l":15,"g":5,"x":-0.36,"y":0.55},{"l":16,"g":4,"x":-0.36,"y":0.55},{"l":17,"g":3,"x":-0.36,"y":0.55},{"l":15,"g":5,"x":-0.36,"y":-0.55},{"l":16,"g":4,"x":-0.36,"y":-0.55},{"l":17,"g":3,"x":-0.36,"y":-0.55},
{"l":15,"g":4,"x":-0.52,"y":0.42},{"l":16,"g":3,"x":-0.52,"y":0.42},{"l":17,"g":2,"x":-0.52,"y":0.42},{"l":15,"g":4,"x":-0.52,"y":-0.42},{"l":16,"g":3,"x":-0.52,"y":-0.42},{"l":17,"g":2,"x":-0.52,"y":-0.42},
{"l":17,"g":5,"x":-0.38,"y":0.2},{"l":17,"g":5,"x":-0.38,"y":-0.2}]
},
"vconcat":[
{"width":724,"height":209,"resolve":{"axis":{"x":"independent","y":"independent"}},"layer":[
{"data":{"name":"b1"},"mark":{"type":"area","orient":"vertical","interpolate":"monotone","strokeWidth":3,"strokeOpacity":0.5},"encoding":{"x":{"field":"x","type":"quantitative","scale":{"domain":[-3,1],"nice":false},"axis":{"orient":"bottom","values":[-3,-2,-1,0,1],"labels":false,"title":null}},"y":{"field":"y","type":"quantitative","scale":{"domain":[-1.78,1.78],"nice":false},"axis":{"orient":"left","values":[-1,0,1],"title":"Im(z)","labelExpr":"''+datum.value","labelFont":"Liberation Serif","labelFontSize":26,"labelPadding":33,"titlePadding":-17}},"y2":{"field":"y2"},"color":{"field":"l","type":"ordinal","legend":null,"scale":{"domain":[0,1,2,3,4,5,6,7,8,9,10,11,12,13,14,15,16,17],"range":["#000000","#1c0026","#38004c","#540072","#700098","#8a00bc","#9a00cc","#a400b0","#ae0094","#b80070","#c20048","#cc0010","#d83000","#e26000","#ec9000","#f6c000","#ffe000","#ffff00"]}},"stroke":{"field":"l","type":"ordinal","legend":null,"scale":{"domain":[0,1,2,3,4,5,6,7,8,9,10,11,12,13,14,15,16,17],"range":["#000000","#1c0026","#38004c","#540072","#700098","#8a00bc","#9a00cc","#a400b0","#ae0094","#b80070","#c20048","#cc0010","#d83000","#e26000","#ec9000","#f6c000","#ffe000","#ffff00"]}}}},
{"data":{"name":"h1"},"mark":{"type":"area","orient":"vertical","interpolate":"monotone","strokeWidth":3,"strokeOpacity":0.5},"encoding":{"x":{"field":"x","type":"quantitative","axis":{"orient":"top","values":[-3,-2,-1,0,1],"labels":false,"title":null}},"y":{"field":"y","type":"quantitative","axis":{"orient":"right","values":[-1,0,1],"labels":false,"title":null}},"y2":{"field":"y2"},"color":{"field":"l","type":"ordinal","legend":null},"stroke":{"field":"l","type":"ordinal","legend":null}}},
{"data":{"name":"s1"},"mark":{"type":"point","filled":true,"opacity":1,"strokeWidth":1.5,"strokeOpacity":0.5,"shape":"M-1,0 C-1,-0.55 1,-0.55 1,0 C1,0.55 -1,0.55 -1,0 Z"},"encoding":{"x":{"field":"x","type":"quantitative","axis":null},"y":{"field":"y","type":"quantitative","axis":null},"color":{"field":"l","type":"ordinal","legend":null},"stroke":{"field":"l","type":"ordinal","legend":null},"size":{"field":"g","type":"quantitative","legend":null,"scale":{"type":"pow","exponent":2,"domain":[1,5],"range":[30,700]}}}},
{"data":{"name":"t"},"transform":[{"filter":"datum.p==1&&datum.k==0"}],"mark":{"type":"text","align":"left","baseline":"alphabetic","color":"#fff","fontSize":24,"font":"Liberation Serif"},"encoding":{"x":{"field":"x","type":"quantitative","axis":null},"y":{"field":"y","type":"quantitative","axis":null},"text":{"field":"t"}}},
{"data":{"name":"t"},"transform":[{"filter":"datum.p==1&&datum.k==1"}],"mark":{"type":"text","align":"left","baseline":"alphabetic","color":"#fff","fontSize":16,"font":"Liberation Serif"},"encoding":{"x":{"field":"x","type":"quantitative","axis":null},"y":{"field":"y","type":"quantitative","axis":null},"text":{"field":"t"}}}]},
{"width":724,"height":207,"resolve":{"axis":{"x":"independent","y":"independent"}},"layer":[
{"data":{"name":"b2"},"mark":{"type":"area","orient":"vertical","interpolate":"monotone","strokeWidth":3,"strokeOpacity":0.5},"encoding":{"x":{"field":"x","type":"quantitative","scale":{"domain":[-3,1],"nice":false},"axis":{"orient":"bottom","values":[-3,-2,-1,0,1],"labels":false,"title":null}},"y":{"field":"y","type":"quantitative","scale":{"domain":[-1.78,1.78],"nice":false},"axis":{"orient":"left","values":[-1,0,1],"title":"Im(z)","labelExpr":"''+datum.value","labelFont":"Liberation Serif","labelFontSize":26,"labelPadding":33,"titlePadding":-17}},"y2":{"field":"y2"},"color":{"field":"l","type":"ordinal","legend":null,"scale":{"domain":[0,1,2,3,4,5,6,7,8,9,10,11,12,13,14,15,16,17],"range":["#000000","#1c0026","#38004c","#540072","#700098","#8a00bc","#9a00cc","#a400b0","#ae0094","#b80070","#c20048","#cc0010","#d83000","#e26000","#ec9000","#f6c000","#ffe000","#ffff00"]}},"stroke":{"field":"l","type":"ordinal","legend":null,"scale":{"domain":[0,1,2,3,4,5,6,7,8,9,10,11,12,13,14,15,16,17],"range":["#000000","#1c0026","#38004c","#540072","#700098","#8a00bc","#9a00cc","#a400b0","#ae0094","#b80070","#c20048","#cc0010","#d83000","#e26000","#ec9000","#f6c000","#ffe000","#ffff00"]}}}},
{"data":{"name":"h2"},"mark":{"type":"area","orient":"vertical","interpolate":"monotone","strokeWidth":3,"strokeOpacity":0.5},"encoding":{"x":{"field":"x","type":"quantitative","axis":{"orient":"top","values":[-3,-2,-1,0,1],"labels":false,"title":null}},"y":{"field":"y","type":"quantitative","axis":{"orient":"right","values":[-1,0,1],"labels":false,"title":null}},"y2":{"field":"y2"},"color":{"field":"l","type":"ordinal","legend":null},"stroke":{"field":"l","type":"ordinal","legend":null}}},
{"data":{"name":"s2"},"mark":{"type":"point","filled":true,"opacity":1,"strokeWidth":1.5,"strokeOpacity":0.5,"shape":"M-1,0 C-1,-0.55 1,-0.55 1,0 C1,0.55 -1,0.55 -1,0 Z"},"encoding":{"x":{"field":"x","type":"quantitative","axis":null},"y":{"field":"y","type":"quantitative","axis":null},"color":{"field":"l","type":"ordinal","legend":null},"stroke":{"field":"l","type":"ordinal","legend":null},"size":{"field":"g","type":"quantitative","legend":null,"scale":{"type":"pow","exponent":2,"domain":[1,5],"range":[30,700]}}}},
{"data":{"name":"t"},"transform":[{"filter":"datum.p==2&&datum.k==0"}],"mark":{"type":"text","align":"left","baseline":"alphabetic","color":"#fff","fontSize":24,"font":"Liberation Serif"},"encoding":{"x":{"field":"x","type":"quantitative","axis":null},"y":{"field":"y","type":"quantitative","axis":null},"text":{"field":"t"}}},
{"data":{"name":"t"},"transform":[{"filter":"datum.p==2&&datum.k==1"}],"mark":{"type":"text","align":"left","baseline":"alphabetic","color":"#fff","fontSize":16,"font":"Liberation Serif"},"encoding":{"x":{"field":"x","type":"quantitative","axis":null},"y":{"field":"y","type":"quantitative","axis":null},"text":{"field":"t"}}}]},
{"width":724,"height":216,"resolve":{"axis":{"x":"independent","y":"independent"}},"layer":[
{"data":{"name":"b3"},"mark":{"type":"area","orient":"vertical","interpolate":"monotone","strokeWidth":3,"strokeOpacity":0.5},"encoding":{"x":{"field":"x","type":"quantitative","scale":{"domain":[-3,1],"nice":false},"axis":{"orient":"bottom","values":[-3,-2,-1,0,1],"title":"Re(z)","labelExpr":"''+datum.value","labelFont":"Liberation Serif","labelFontSize":26,"labelFlush":false,"labelPadding":22,"titlePadding":-9}},"y":{"field":"y","type":"quantitative","scale":{"domain":[-1.82,1.78],"nice":false},"axis":{"orient":"left","values":[-1,0,1],"title":"Im(z)","labelExpr":"''+datum.value","labelFont":"Liberation Serif","labelFontSize":26,"labelPadding":33,"titlePadding":-17}},"y2":{"field":"y2"},"color":{"field":"l","type":"ordinal","legend":null,"scale":{"domain":[0,1,2,3,4,5,6,7,8,9,10,11,12,13,14,15,16,17],"range":["#000000","#1c0026","#38004c","#540072","#700098","#8a00bc","#9a00cc","#a400b0","#ae0094","#b80070","#c20048","#cc0010","#d83000","#e26000","#ec9000","#f6c000","#ffe000","#ffff00"]}},"stroke":{"field":"l","type":"ordinal","legend":null,"scale":{"domain":[0,1,2,3,4,5,6,7,8,9,10,11,12,13,14,15,16,17],"range":["#000000","#1c0026","#38004c","#540072","#700098","#8a00bc","#9a00cc","#a400b0","#ae0094","#b80070","#c20048","#cc0010","#d83000","#e26000","#ec9000","#f6c000","#ffe000","#ffff00"]}}}},
{"data":{"name":"h3"},"mark":{"type":"area","orient":"vertical","interpolate":"monotone","strokeWidth":3,"strokeOpacity":0.5},"encoding":{"x":{"field":"x","type":"quantitative","axis":{"orient":"top","values":[-3,-2,-1,0,1],"labels":false,"title":null}},"y":{"field":"y","type":"quantitative","axis":{"orient":"right","values":[-1,0,1],"labels":false,"title":null}},"y2":{"field":"y2"},"color":{"field":"l","type":"ordinal","legend":null},"stroke":{"field":"l","type":"ordinal","legend":null}}},
{"data":{"name":"s3"},"mark":{"type":"point","filled":true,"opacity":1,"strokeWidth":1.5,"strokeOpacity":0.5,"shape":"M-1,0 C-1,-0.55 1,-0.55 1,0 C1,0.55 -1,0.55 -1,0 Z"},"encoding":{"x":{"field":"x","type":"quantitative","axis":null},"y":{"field":"y","type":"quantitative","axis":null},"color":{"field":"l","type":"ordinal","legend":null},"stroke":{"field":"l","type":"ordinal","legend":null},"size":{"field":"g","type":"quantitative","legend":null,"scale":{"type":"pow","exponent":2,"domain":[1,5],"range":[30,700]}}}},
{"data":{"name":"t"},"transform":[{"filter":"datum.p==3&&datum.k==0"}],"mark":{"type":"text","align":"left","baseline":"alphabetic","color":"#fff","fontSize":24,"font":"Liberation Serif"},"encoding":{"x":{"field":"x","type":"quantitative","axis":null},"y":{"field":"y","type":"quantitative","axis":null},"text":{"field":"t"}}},
{"data":{"name":"t"},"transform":[{"filter":"datum.p==3&&datum.k==1"}],"mark":{"type":"text","align":"left","baseline":"alphabetic","color":"#fff","fontSize":16,"font":"Liberation Serif"},"encoding":{"x":{"field":"x","type":"quantitative","axis":null},"y":{"field":"y","type":"quantitative","axis":null},"text":{"field":"t"}}}]}
]}
